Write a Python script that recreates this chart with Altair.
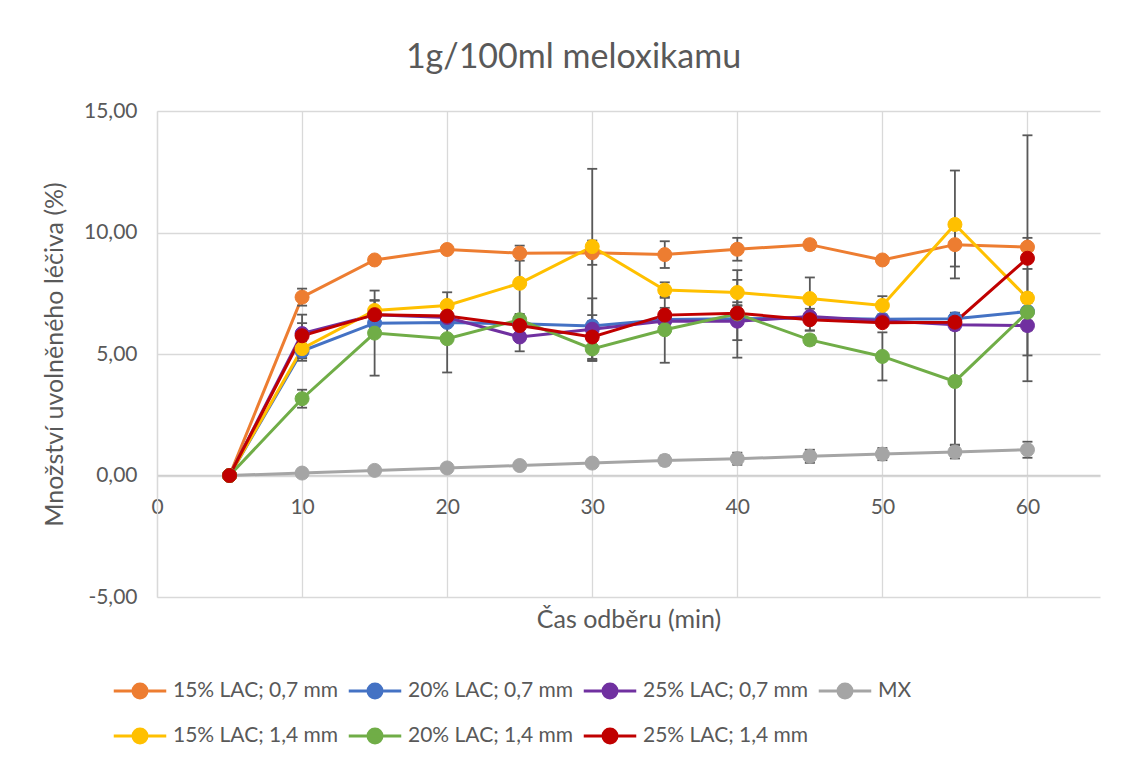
import altair as alt
import pandas as pd

times = [5, 10, 15, 20, 25, 30, 35, 40, 45, 50, 55, 60]

series_names = [
    "15% LAC; 0,7 mm", "20% LAC; 0,7 mm", "25% LAC; 0,7 mm", "MX",
    "15% LAC; 1,4 mm", "20% LAC; 1,4 mm", "25% LAC; 1,4 mm",
]
series_colors = ["#ED7D31", "#4472C4", "#7030A0", "#A5A5A5",
                 "#FFC000", "#70AD47", "#C00000"]

lac15_07 = [0, 7.34, 8.87, 9.30, 9.15, 9.17, 9.09, 9.31, 9.50, 8.87, 9.50, 9.40]
lac20_07 = [0, 5.12, 6.27, 6.30, 6.24, 6.15, 6.42, 6.45, 6.48, 6.43, 6.45, 6.75]
lac25_07 = [0, 5.84, 6.62, 6.50, 5.70, 6.02, 6.36, 6.35, 6.54, 6.37, 6.20, 6.17]
mx = [0, 0.10, 0.21, 0.31, 0.41, 0.51, 0.62, 0.69, 0.79, 0.88, 0.97, 1.06]
lac15_14 = [0, 5.22, 6.79, 7.00, 7.91, 9.42, 7.63, 7.53, 7.28, 7.00, 10.33, 7.30]
lac20_14 = [0, 3.16, 5.86, 5.63, 6.41, 5.21, 6.00, 6.65, 5.58, 4.90, 3.87, 6.72]
lac25_14 = [0, 5.75, 6.62, 6.56, 6.17, 5.70, 6.60, 6.68, 6.41, 6.29, 6.31, 8.94]

err15_07 = [0, 0.35, 0.10, 0.10, 0.31, 0.50, 0.55, 0.47, 0.20, 0.10, 0.90, 0.38]
err20_07 = [0, 0.40, 0.15, 0.15, 0.15, 0.20, 0.15, 0.15, 0.15, 0.20, 0.25, 0.15]
err25_07 = [0, 0.43, 0.20, 0.20, 0.59, 1.27, 0.20, 0.78, 0.57, 0.20, 0.20, 0.20]
err_mx = [0, 0.03, 0.05, 0.10, 0.12, 0.15, 0.20, 0.25, 0.27, 0.25, 0.27, 0.33]
err15_14 = [0, 0.40, 0.40, 0.54, 1.26, 3.20, 0.32, 0.52, 0.87, 0.38, 2.22, 0.20]
err20_14 = [0, 0.37, 1.75, 1.39, 0.20, 0.50, 1.36, 1.80, 0.20, 0.99, 2.60, 1.78]
err25_14 = [0, 0.87, 0.60, 0.30, 0.30, 0.90, 0.30, 0.30, 0.45, 0.15, 0.20, 5.06]

all_values = [lac15_07, lac20_07, lac25_07, mx, lac15_14, lac20_14, lac25_14]
all_errors = [err15_07, err20_07, err25_07, err_mx, err15_14, err20_14, err25_14]

rows = []
for idx, (name, vals, errs) in enumerate(zip(series_names, all_values, all_errors)):
    for t, v, e in zip(times, vals, errs):
        rows.append({"time": t, "value": v, "err": e, "lo": v - e, "hi": v + e,
                     "series": name, "ord": idx})
df = pd.DataFrame(rows)
df_err = df[df["err"] > 0]

FONT = "Lato"
GREY_TXT = "#595959"
GRID = "#d9d9d9"
ERR = "#595959"

color_scale = alt.Scale(domain=series_names, range=series_colors)

SYMBOL = "M-1.5,0L1.5,0M-0.4,0A0.4,0.4,0,1,1,0.4,0A0.4,0.4,0,1,1,-0.4,0Z"

legend = alt.Legend(
    title=None, orient="none", legendX=-36, legendY=561,
    direction="horizontal", columns=4,
    symbolType=SYMBOL, symbolSize=1225, symbolStrokeWidth=3,
    labelFont=FONT, labelFontSize=21, labelColor=GREY_TXT,
    labelOffset=14, columnPadding=3, rowPadding=13, padding=0,
    labelLimit=400,
)

x_axis = alt.Axis(
    values=[0, 10, 20, 30, 40, 50, 60], offset=-122,
    title="Čas odběru (min)", titleY=152, titleBaseline="alphabetic",
    titleFont=FONT, titleFontSize=25, titleFontWeight="normal", titleColor=GREY_TXT,
    labelFont=FONT, labelFontSize=21, labelColor=GREY_TXT, labelPadding=21,
    labelFlush=False,
    ticks=False, grid=True, gridColor=GRID, gridWidth=1.3,
    domain=True, domainColor="#cfcfcf", domainWidth=1.5,
)
y_axis = alt.Axis(
    values=[-5, 0, 5, 10, 15],
    labelExpr="replace(replace(format(datum.value, '.2f'), '.', ','), '\u2212', '-')",
    title="Množství uvolněného léčiva (%)", titlePadding=16,
    titleFont=FONT, titleFontSize=25, titleFontWeight="normal", titleColor=GREY_TXT,
    labelFont=FONT, labelFontSize=21, labelColor=GREY_TXT, labelPadding=20,
    ticks=False, grid=True, gridColor=GRID, gridWidth=1.3,
    domain=True, domainColor=GRID, domainWidth=1.3,
)
x_scale = alt.Scale(domain=[0, 65], nice=False, zero=False)
y_scale = alt.Scale(domain=[-5, 15], nice=False, zero=False)


def X():
    return alt.X("time:Q", scale=x_scale, axis=x_axis)


def Y(field):
    return alt.Y(field, type="quantitative", scale=y_scale, axis=y_axis)


lines = alt.Chart(df).mark_line(strokeWidth=3).encode(
    x=X(), y=Y("value"),
    color=alt.Color("series:N", scale=color_scale, legend=legend),
    order=alt.Order("time:Q"),
)

err_rules = alt.Chart(df_err).mark_rule(color=ERR, strokeWidth=1.8).encode(
    x=X(), y=Y("lo"), y2="hi:Q",
)
err_lo = alt.Chart(df_err).mark_tick(orient="horizontal", color=ERR, size=10,
                                     thickness=1.8, opacity=1).encode(
    x=X(), y=Y("lo"),
)
err_hi = alt.Chart(df_err).mark_tick(orient="horizontal", color=ERR, size=10,
                                     thickness=1.8, opacity=1).encode(
    x=X(), y=Y("hi"),
)

points = alt.Chart(df).mark_point(shape="circle", filled=True, size=196,
                                  strokeWidth=1, opacity=1).encode(
    x=X(), y=Y("value"),
    fill=alt.Fill("series:N", scale=color_scale, legend=legend),
    stroke=alt.Stroke("series:N", scale=color_scale, legend=legend),
    order=alt.Order("ord:Q"),
)

chart = alt.layer(lines, err_rules, err_lo, err_hi, points).properties(
    width=943, height=486,
    title=alt.Title("1g/100ml meloxikamu", font=FONT, fontSize=34, color=GREY_TXT,
                    fontWeight="normal", anchor="middle", dx=-55, dy=24, offset=22,
                    baseline="alphabetic"),
    autosize=alt.AutoSizeParams(type="none"),
    padding={"left": 149, "top": 103, "right": 20, "bottom": 155},
).configure_view(stroke=None)

chart.save("out.html", embed_options={"renderer": "svg", "actions": False})
